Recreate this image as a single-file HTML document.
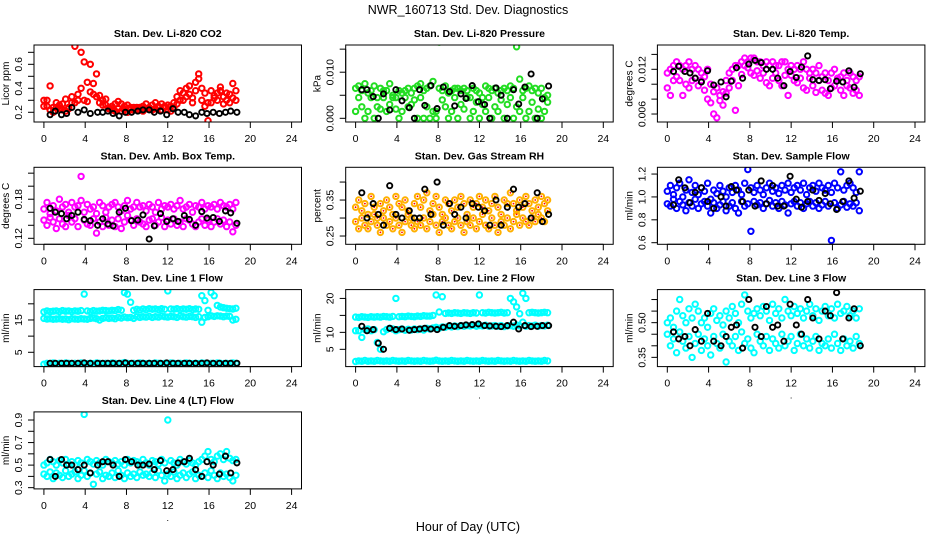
<!DOCTYPE html>
<html><head><meta charset="utf-8"><style>
html,body{margin:0;padding:0;background:#fff}
svg text{font-family:"Liberation Sans",sans-serif}
</style></head><body>
<svg id="chart" width="936" height="540" viewBox="0 0 936 540" xmlns="http://www.w3.org/2000/svg">
<rect width="936" height="540" fill="#fff"/>
<text x="468" y="14" text-anchor="middle" font-size="12.5">NWR_160713 Std. Dev. Diagnostics</text>
<text x="468" y="531" text-anchor="middle" font-size="12.5">Hour of Day (UTC)</text>
</svg>
<script>
const times=[0,0.3,0.6,0.9,1.2,1.5,1.8,2.1,2.4,2.7,3,3.3,3.6,3.9,4.2,4.5,4.8,5.1,5.4,5.7,6,6.3,6.6,6.9,7.2,7.5,7.8,8.1,8.4,8.7,9,9.3,9.6,9.9,10.2,10.5,10.8,11.1,11.4,11.7,12,12.3,12.6,12.9,13.2,13.5,13.8,14.1,14.4,14.7,15,15.3,15.6,15.9,16.2,16.5,16.8,17.1,17.4,17.7,18,18.3,18.6];
const blackTimes=[0.6,1.1,1.7,2.2,2.7,3.3,3.9,4.5,5.2,5.7,6.2,6.7,7.3,7.9,8.5,9.1,9.6,10.2,10.7,11.3,11.9,12.5,13.0,13.6,14.1,14.7,15.3,15.8,16.4,17.0,17.6,18.1,18.7];
const xTicks=[0,4,8,12,16,20,24];

const p1a=[.25,.30,.22,.20,.24,.26,.22,.21,.23,.33,.28,.30,.70,.62,.29,.60,.44,.52,.34,.30,.26,.24,.22,.27,.23,.21,.25,.20,.22,.24,.22,.24,.25,.23,.24,.26,.23,.25,.27,.24,.22,.25,.28,.33,.30,.36,.40,.35,.32,.45,.48,.40,.36,.13,.28,.32,.36,.38,.33,.30,.35,.32,.30];
const p1b=[.30,.25,.42,.24,.28,.23,.27,.31,.24,.28,.75,.35,.40,.30,.45,.37,.35,.33,.28,.26,.31,.23,.25,.21,.29,.27,.22,.26,.24,.22,.24,.22,.21,.27,.23,.22,.28,.24,.22,.25,.26,.21,.24,.27,.38,.30,.33,.42,.28,.38,.52,.30,.25,.28,.38,.34,.30,.41,.27,.36,.28,.44,.38];
const p1k=[.18,.21,.18,.19,.24,.20,.22,.19,.20,.20,.21,.19,.17,.20,.20,.21,.22,.22,.20,.21,.18,.23,.20,.20,.18,.17,.20,.19,.20,.19,.20,.21,.20];

const p2a=[.0065,.007,.006,.0075,.0055,.006,.007,.0045,.0065,.006,.006,.0075,.005,.0045,.006,.0055,.006,.0065,.0055,.0065,.007,.0075,.006,.0065,.007,.008,.0015,.0065,.006,.007,.0055,.006,.0065,.0065,.006,.0065,.006,.0045,.0065,.006,.0055,.0045,.007,.0065,.006,.0065,.0055,.006,.0065,.006,.007,.0065,.0155,.0085,.006,.0065,.007,.006,.0065,.0055,.0065,.0045,.005];
const p2b=[.0015,.0045,.0025,0,.0015,.0045,0,.0025,.002,.0045,.0015,.003,.0045,.002,0,.0015,.0045,.0025,.003,.004,0,.0045,0,.0025,0,.0015,0,.0165,.004,.0025,0,.0015,.0045,0,.003,.002,.0045,0,.0015,.0035,0,.003,.0015,.0045,0,.0025,.0015,.004,0,.003,.0045,0,.0025,.0015,.0045,0,.0015,.0035,0,.002,0,.0015,.0035];
const p2k=[.0062,.0062,.0047,0,.0053,.0018,.0062,.0038,.0023,0,.0062,.0028,.0071,.0021,.0068,.0058,.0027,.0053,.0043,.0071,.0036,.0030,0,.0066,.0050,0,.0062,.0031,.0068,.0096,0,.0042,.0070];

const p3a=[.0115,.012,.0125,.013,.0125,.012,.0125,.013,.012,.0125,.012,.0115,.011,.012,.010,.009,.0095,.0085,.009,.0105,.0115,.012,.0125,.0125,.013,.0135,.013,.0135,.0135,.013,.013,.0125,.013,.0125,.013,.0125,.0125,.013,.013,.012,.0125,.012,.0125,.012,.013,.012,.0115,.012,.0115,.0125,.011,.0115,.0105,.0115,.012,.0105,.011,.0115,.0105,.0115,.011,.0105,.011];
const p3b=[.0095,.0085,.0105,.011,.0105,.0085,.0100,.0095,.0105,.0108,.0098,.0105,.0092,.008,.0075,.006,.0055,.0078,.0072,.0088,.0095,.0105,.0065,.0098,.0113,.0125,.0122,.0115,.0112,.0118,.0108,.0115,.0102,.0098,.0108,.0115,.0105,.0098,.0112,.0085,.0112,.0105,.0102,.0108,.0095,.0092,.0108,.0098,.0089,.0105,.0092,.0088,.0085,.0095,.0098,.0108,.0092,.0085,.0098,.0095,.0088,.0092,.0085];
const p3k=[.0117,.0124,.0117,.0115,.0108,.0103,.0118,.0099,.0103,.0083,.0104,.0122,.0108,.0127,.0132,.0129,.0120,.0120,.0108,.0098,.0117,.0109,.0123,.0138,.0106,.0105,.0106,.0094,.0104,.0103,.0118,.0096,.0114];

const p4a=[.165,.175,.158,.170,.162,.180,.168,.172,.160,.175,.168,.170,.178,.160,.172,.165,.168,.158,.175,.170,.160,.168,.172,.175,.168,.162,.170,.178,.165,.168,.175,.168,.170,.162,.172,.168,.160,.175,.165,.170,.168,.172,.165,.170,.178,.165,.168,.172,.160,.170,.168,.175,.165,.170,.168,.172,.165,.175,.170,.168,.172,.165,.175];
const p4b=[.148,.140,.152,.145,.135,.150,.142,.138,.155,.145,.150,.138,.215,.148,.142,.140,.150,.128,.145,.138,.152,.140,.148,.138,.150,.135,.145,.155,.148,.140,.150,.145,.142,.138,.148,.150,.140,.145,.152,.138,.148,.142,.150,.140,.145,.138,.150,.148,.142,.138,.145,.150,.140,.148,.138,.145,.150,.142,.148,.138,.145,.130,.140];
const p4k=[.166,.160,.158,.150,.155,.160,.149,.147,.140,.150,.142,.139,.160,.166,.147,.148,.156,.119,.139,.158,.146,.150,.146,.155,.149,.140,.161,.151,.152,.146,.162,.159,.143];

const p5a=[.33,.35,.32,.34,.31,.36,.33,.30,.34,.32,.35,.33,.31,.36,.34,.33,.35,.32,.30,.34,.36,.33,.35,.37,.32,.34,.36,.33,.31,.35,.34,.32,.35,.33,.36,.34,.31,.35,.33,.34,.36,.33,.35,.32,.34,.36,.33,.31,.35,.34,.37,.34,.32,.35,.33,.36,.34,.32,.35,.33,.36,.34,.35];
const p5b=[.29,.27,.30,.28,.27,.29,.31,.28,.26,.30,.28,.29,.27,.30,.28,.26,.29,.31,.28,.27,.29,.28,.30,.27,.29,.31,.28,.26,.29,.30,.28,.27,.29,.30,.28,.26,.29,.28,.30,.27,.29,.31,.28,.27,.30,.28,.26,.29,.28,.30,.27,.29,.31,.28,.30,.29,.28,.30,.29,.31,.30,.29,.32];
const p5k=[.37,.30,.34,.31,.28,.39,.31,.30,.32,.30,.30,.38,.31,.40,.28,.34,.31,.33,.30,.34,.33,.32,.28,.35,.28,.33,.38,.33,.34,.30,.37,.29,.31];

const p6a=[1.05,1.10,1.02,1.08,1.12,1.00,1.06,1.15,1.04,1.10,1.02,1.08,1.05,1.12,0.98,1.06,1.03,1.10,1.05,1.00,1.08,1.04,1.10,1.06,1.02,1.12,1.24,1.08,1.04,1.10,1.06,1.02,1.08,1.12,1.05,1.08,1.03,1.10,1.06,1.12,1.04,1.08,1.10,1.06,1.12,1.02,1.08,1.10,1.05,1.12,1.08,1.06,1.10,1.04,1.12,1.08,1.22,1.06,1.10,1.12,1.08,1.04,1.22];
const p6b=[0.94,0.92,0.98,0.90,0.96,0.93,0.88,0.95,0.92,0.98,0.90,0.94,0.96,0.92,0.86,0.95,0.90,0.93,0.96,0.88,0.92,0.95,0.90,0.86,0.96,0.92,0.94,0.70,0.96,0.93,0.95,0.90,0.94,0.97,0.92,0.95,0.90,0.96,0.93,0.86,0.94,0.96,0.92,0.95,0.90,0.94,0.96,0.92,0.95,0.90,0.93,0.96,0.92,0.62,0.95,0.90,0.93,0.96,0.91,0.94,0.92,0.95,0.88];
const p6k=[0.93,1.15,1.08,0.95,1.04,1.08,0.96,0.90,1.00,0.92,1.09,1.06,0.96,1.06,0.92,1.14,0.94,1.10,0.92,0.92,1.18,0.98,0.91,0.96,1.06,0.97,1.03,0.94,0.89,0.96,1.14,0.99,1.05];

const p7a=[17.5,17.8,17.6,17.7,17.8,17.6,17.9,17.7,17.8,17.6,17.8,17.7,17.9,23.0,17.8,17.6,17.9,17.7,17.8,18.0,17.9,17.8,18.0,17.9,18.2,18.0,23.5,23.0,20.5,18.0,18.3,18.1,18.4,18.2,18.5,18.3,18.4,18.2,18.5,18.3,24.0,18.4,18.3,18.5,18.2,18.4,18.3,18.5,18.2,18.4,18.3,22.5,21.0,18.0,23.5,22.5,19.5,19.0,18.8,18.6,18.5,18.4,18.6];
const p7b=[15.5,15.3,15.4,15.2,15.3,15.4,15.2,15.3,15.1,15.4,15.3,15.2,15.4,15.3,15.2,15.5,15.6,15.4,15.0,15.5,15.7,15.5,15.6,15.4,15.8,15.6,15.9,15.7,15.8,15.5,16.0,15.8,16.0,15.9,16.1,15.8,16.0,15.9,16.2,16.0,15.9,16.1,16.0,15.8,16.2,16.0,15.9,16.1,16.0,15.8,16.0,14.3,15.8,16.0,16.3,16.1,16.3,16.2,16.0,16.2,16.1,15.0,15.2];
const p7c=[1.3,1.6,1.5,1.7,1.5,1.6,1.5,1.7,1.6,1.5,1.6,1.5,1.7,1.6,1.5,1.6,1.5,1.7,1.6,1.5,1.6,1.5,1.7,1.6,1.5,1.6,1.8,1.6,1.5,1.6,1.5,1.7,1.6,1.5,1.6,1.5,1.7,1.6,1.5,1.6,1.5,1.7,1.6,1.5,1.6,1.5,1.7,1.6,1.5,1.6,1.5,1.7,1.6,1.5,1.6,1.5,1.7,1.6,1.5,1.6,1.5,1.7,1.6];
const p7k=[1.6,1.6,1.6,1.6,1.6,1.6,1.7,1.6,1.6,1.6,1.6,1.6,1.6,1.7,1.6,1.6,1.6,1.6,1.6,1.6,1.7,1.6,1.6,1.6,1.6,1.6,1.6,1.7,1.6,1.6,1.6,1.6,1.6];

const p8a=[14.5,14.4,14.6,14.5,14.4,14.6,14.5,14.6,14.5,14.7,14.6,14.5,14.7,20.0,14.6,14.7,14.6,14.8,14.7,14.6,14.8,14.7,14.9,14.8,14.8,15.0,21.0,16.0,20.5,15.6,15.7,15.6,15.8,15.7,15.6,15.8,15.7,15.6,15.8,15.7,21.0,15.8,15.7,15.9,15.8,15.7,15.8,15.9,15.7,15.8,20.0,19.0,17.5,15.5,21.5,20.0,15.8,15.9,15.8,15.7,15.8,15.9,15.8];
const p8b=[10.5,10.5,8.5,10.8,11.0,10.5,10.8,7.0,5.0,10.2,10.8,11.2,11.0,10.5,10.8,11.0,10.6,10.9,10.7,11.0,10.8,11.0,10.7,11.2,11.0,11.3,11.5,11.2,11.6,11.5,11.8,11.6,11.9,11.7,12.0,11.8,12.0,11.9,12.1,11.8,12.0,11.9,12.1,11.8,11.9,12.0,11.8,12.0,11.7,11.9,12.0,11.8,12.2,11.9,13.0,11.8,12.0,11.9,12.1,11.8,12.0,11.9,12.1];
const p8c=[1.4,1.6,1.5,1.7,1.5,1.6,1.5,1.7,1.6,1.5,1.6,1.5,1.7,1.6,1.5,1.6,1.5,1.7,1.6,1.5,1.6,1.5,1.7,1.6,1.5,1.6,1.8,1.6,1.5,1.6,1.5,1.7,1.6,1.5,1.6,1.5,1.7,1.6,1.5,1.6,1.5,1.7,1.6,1.5,1.6,1.5,1.7,1.6,1.5,1.6,1.5,1.7,1.6,1.5,1.6,1.5,1.7,1.6,1.5,1.6,1.5,1.7,1.6];
const p8k=[11.8,10.5,10.8,6.8,5.0,11.2,10.8,11.0,10.6,10.8,11.0,11.2,11.0,10.8,11.5,12.0,11.8,12.0,12.2,12.3,12.5,12.0,11.9,11.8,11.7,12.0,13.0,11.0,12.0,11.7,11.8,12.0,12.0];

const p9a=[.50,.52,.48,.55,.60,.53,.50,.56,.52,.58,.55,.50,.52,.48,.54,.56,.51,.53,.49,.55,.52,.57,.54,.50,.58,.62,.55,.52,.54,.56,.53,.57,.55,.51,.58,.54,.56,.52,.60,.55,.53,.57,.54,.56,.52,.55,.58,.53,.56,.51,.55,.57,.53,.56,.52,.58,.54,.55,.57,.53,.55,.52,.56];
const p9b=[.45,.40,.43,.37,.46,.42,.39,.44,.35,.41,.45,.38,.43,.40,.36,.44,.41,.39,.45,.33,.42,.40,.44,.38,.46,.41,.43,.39,.37,.45,.42,.40,.44,.38,.43,.41,.39,.45,.40,.42,.44,.38,.41,.45,.40,.43,.39,.42,.44,.38,.41,.40,.43,.39,.45,.41,.38,.43,.40,.42,.39,.44,.41];
const p9k=[.46,.43,.44,.40,.47,.42,.54,.42,.40,.44,.48,.49,.39,.60,.48,.44,.57,.48,.49,.42,.58,.49,.45,.60,.52,.43,.55,.53,.63,.43,.52,.56,.40];

const p10a=[.50,.52,.55,.53,.50,.54,.52,.55,.51,.53,.50,.54,.52,.95,.55,.53,.51,.54,.52,.50,.55,.53,.52,.54,.51,.53,.50,.55,.52,.54,.53,.51,.55,.52,.50,.54,.53,.51,.55,.52,.90,.54,.52,.50,.55,.53,.51,.54,.52,.50,.53,.55,.58,.62,.55,.53,.58,.60,.55,.62,.56,.54,.55];
const p10b=[.42,.40,.44,.38,.43,.41,.39,.45,.40,.42,.44,.38,.41,.45,.40,.43,.33,.42,.44,.38,.41,.40,.43,.39,.45,.41,.38,.43,.40,.42,.39,.44,.41,.42,.40,.43,.39,.45,.41,.36,.42,.40,.44,.38,.41,.43,.39,.42,.44,.38,.41,.40,.43,.39,.45,.41,.38,.43,.40,.42,.39,.36,.41];
const p10k=[.55,.40,.55,.50,.50,.46,.50,.43,.50,.53,.53,.50,.40,.55,.53,.50,.50,.51,.46,.54,.45,.46,.52,.53,.56,.46,.40,.53,.50,.42,.58,.43,.52];

const panels=[
 {name:'co2',title:'Stan. Dev. Li-820 CO2',ylab:'Licor ppm',col:'#ff0000',r:0,c:0,ymin:.119,ymax:.761,ticks:[.2,.3,.4,.5,.6,.7],labels:['0.2','','0.4','','0.6',''],s:[p1a,p1b],k:p1k},
 {name:'pressure',title:'Stan. Dev. Li-820 Pressure',ylab:'kPa',col:'#22dd22',r:0,c:1,ymin:-.0008,ymax:.0159,ticks:[0,.005,.01,.015],labels:['0.000','','0.010',''],s:[p2a,p2b],k:p2k},
 {name:'licor-temp',title:'Stan. Dev. Li-820 Temp.',ylab:'degrees C',col:'#ff00ff',r:0,c:2,ymin:.00493,ymax:.01526,ticks:[.006,.008,.010,.012,.014],labels:['0.006','','','0.012',''],s:[p3a,p3b],k:p3k},
 {name:'amb-box-temp',title:'Stan. Dev. Amb. Box Temp.',ylab:'degrees C',col:'#ff00ff',r:1,c:0,ymin:.1108,ymax:.229,ticks:[.12,.14,.16,.18,.20,.22],labels:['0.12','','','0.18','',''],s:[p4a,p4b],k:p4k},
 {name:'gas-stream-rh',title:'Stan. Dev. Gas Stream RH',ylab:'percent',col:'#ffb000',r:1,c:1,ymin:.227,ymax:.441,ticks:[.25,.30,.35,.40],labels:['0.25','','0.35',''],s:[p5a,p5b],k:p5k,dot:'#ff0000'},
 {name:'sample-flow',title:'Stan. Dev. Sample Flow',ylab:'ml/min',col:'#0000ff',r:1,c:2,ymin:.586,ymax:1.259,ticks:[.6,.8,1.0,1.2],labels:['0.6','0.8','1.0','1.2'],s:[p6a,p6b],k:p6k},
 {name:'line1-flow',title:'Stan. Dev. Line 1 Flow',ylab:'ml/min',col:'#00ffff',r:2,c:0,ymin:.57,ymax:24.4,ticks:[5,10,15,20],labels:['5','','15',''],s:[p7a,p7b,p7c],k:p7k},
 {name:'line2-flow',title:'Stan. Dev. Line 2 Flow',ylab:'ml/min',col:'#00ffff',r:2,c:1,ymin:-.09,ymax:22.6,ticks:[5,10,15,20],labels:['5','10','','20'],s:[p8a,p8b,p8c],k:p8k},
 {name:'line3-flow',title:'Stan. Dev. Line 3 Flow',ylab:'ml/min',col:'#00ffff',r:2,c:2,ymin:.31,ymax:.643,ticks:[.35,.40,.45,.50,.55,.60],labels:['0.35','','','0.50','',''],s:[p9a,p9b],k:p9k},
 {name:'line4-flow',title:'Stan. Dev. Line 4 (LT) Flow',ylab:'ml/min',col:'#00ffff',r:3,c:0,ymin:.289,ymax:.972,ticks:[.3,.4,.5,.6,.7,.8,.9],labels:['0.3','','0.5','','0.7','','0.9'],s:[p10a,p10b],k:p10k}
];

const NS='http://www.w3.org/2000/svg';
const svg=document.getElementById('chart');
function mk(tag,attrs,parent){const e=document.createElementNS(NS,tag);for(const k in attrs)e.setAttribute(k,attrs[k]);parent.appendChild(e);return e;}

panels.forEach(p=>{
 const L=34+311.7*p.c, W=267.5, T=45+122.3*p.r, H=77;
 const g=mk('g',{},svg);
 
 
 const xs=v=>L+(v+0.96)/25.92*W;
 const ys=v=>T+H-(v-p.ymin)/(p.ymax-p.ymin)*H;
 const cp='clip-'+p.name;
 const cpe=mk('clipPath',{id:cp},g);mk('rect',{x:L,y:T,width:W,height:H},cpe);
 const pts=mk('g',{'clip-path':'url(#'+cp+')'},g);
 
 
 p.s.forEach(arr=>{
  arr.forEach((v,i)=>{
   const c=mk('circle',{cx:xs(times[i]).toFixed(1),cy:ys(v).toFixed(1),r:2.7,fill:'none',stroke:p.col,'stroke-width':2},pts);
   
   
   if(p.dot){mk('circle',{cx:xs(times[i]).toFixed(1),cy:ys(v).toFixed(1),r:0.9,fill:p.dot},pts);}
  });
 });
 const kg=mk('g',{'clip-path':'url(#'+cp+')'},g);
 
 
 p.k.forEach((v,i)=>{
  const c=mk('circle',{cx:xs(blackTimes[i]).toFixed(1),cy:ys(v).toFixed(1),r:2.6,fill:'none',stroke:'#000','stroke-width':1.9},kg);
  
  
 });
 const box=mk('rect',{x:L,y:T,width:W,height:H,fill:'none',stroke:'#000','stroke-width':1},g);
 
 
 const t=mk('text',{x:L+W/2,y:T-8,'text-anchor':'middle','font-size':10.5,'font-weight':'bold'},g);
 t.textContent=p.title;
 
 
 const xa=mk('g',{},g);
 
 
 mk('line',{x1:xs(xTicks[0]),x2:xs(xTicks[xTicks.length-1]),y1:T+H,y2:T+H,stroke:'#000'},xa);
 xTicks.forEach(v=>{
  mk('line',{x1:xs(v),x2:xs(v),y1:T+H,y2:T+H+6,stroke:'#000'},xa);
  const tx=mk('text',{x:xs(v),y:T+H+20,'text-anchor':'middle','font-size':10.5},xa);
  tx.textContent=String(v);
  
  
 });
 const dot=mk('text',{x:L+W/2,y:T+H+32,'text-anchor':'middle','font-size':9},g);
 dot.textContent='.';
 const ya=mk('g',{},g);
 
 
 mk('line',{x1:L,x2:L,y1:ys(p.ticks[0]),y2:ys(p.ticks[p.ticks.length-1]),stroke:'#000'},ya);
 p.ticks.forEach((v,i)=>{
  const y=ys(v);
  mk('line',{x1:L-6,x2:L,y1:y,y2:y,stroke:'#000'},ya);
  if(p.labels[i]){
   const tx=mk('text',{x:L-12,y:y,'text-anchor':'middle','font-size':10.5,transform:'rotate(-90 '+(L-12)+' '+y+')'},ya);
   tx.textContent=p.labels[i];
   
   
  }
 });
 const yl=mk('text',{x:L-25,y:T+H/2,'text-anchor':'middle','font-size':10,transform:'rotate(-90 '+(L-25)+' '+(T+H/2)+')'},g);
 yl.textContent=p.ylab;
 
 
});
</script>
</body></html>
